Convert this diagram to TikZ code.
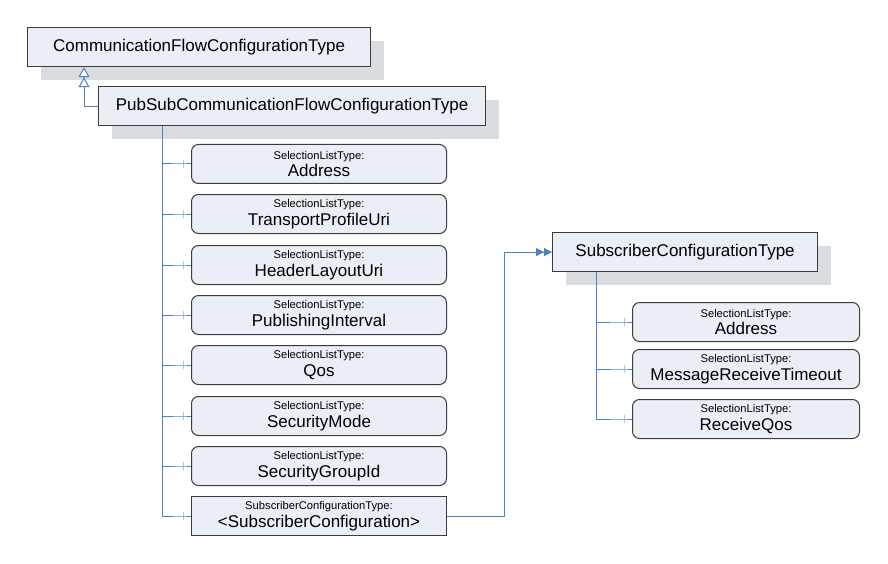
\documentclass[tikz,border=0pt]{standalone}
\usepackage{fontspec}
\setmainfont{Liberation Sans}
\usetikzlibrary{arrows.meta}
\usetikzlibrary{shapes}
\usetikzlibrary{backgrounds,shadows}

\definecolor{boxfill}{RGB}{233,238,247}
\definecolor{boxshadow}{RGB}{217,220,225}
\definecolor{linkblue}{RGB}{79,129,189}
\definecolor{tickblue}{RGB}{140,165,200}
\definecolor{boxborder}{RGB}{60,60,60}

\newcommand{\typelabel}[2]{{\fontsize{11.2}{12}\selectfont #1}\\#2}

\tikzset{
    typebox/.style={draw=boxborder, line width=1.2pt, fill=boxfill, anchor=north west,
        inner sep=0pt, minimum height=39pt, font=\fontsize{17}{18}\selectfont,
        drop shadow={shadow xshift=13pt, shadow yshift=-13pt, fill=boxshadow, opacity=1}},
    itembox/.style={draw=boxborder, line width=1pt, fill=boxfill, rounded corners=7pt,
        anchor=north west, inner sep=0pt, minimum height=39pt, align=center,
        font=\fontsize{17}{17.5}\selectfont},
    conn/.style={draw=linkblue, line width=1pt},
    tickmark/.style={draw=tickblue, line width=0.8pt, rectangle, inner sep=0pt,
        minimum width=0pt, minimum height=8pt}
}

\begin{document}
\begin{tikzpicture}[x=1pt, y=-1pt]

    \useasboundingbox (0, 0) rectangle (888, 564);

    % Declare the types
    \node[typebox, minimum width=343pt] at (27, 27) (CFCT) {CommunicationFlowConfigurationType};
    \node[typebox, minimum width=387pt] at (98, 86) (PSCFT) {PubSubCommunicationFlowConfigurationType};
    \node[typebox, minimum width=265pt] at (552, 232) (SCT) {SubscriberConfigurationType};

    % Declare the members of PubSubCommunicationFlowConfigurationType
    \node[itembox, minimum width=255pt] at (191, 144) (A1) {\typelabel{SelectionListType:}{Address}};
    \node[itembox, minimum width=255pt] at (191, 194) (A2) {\typelabel{SelectionListType:}{TransportProfileUri}};
    \node[itembox, minimum width=255pt] at (191, 245) (A3) {\typelabel{SelectionListType:}{HeaderLayoutUri}};
    \node[itembox, minimum width=255pt] at (191, 295) (A4) {\typelabel{SelectionListType:}{PublishingInterval}};
    \node[itembox, minimum width=255pt] at (191, 345) (A5) {\typelabel{SelectionListType:}{Qos}};
    \node[itembox, minimum width=255pt] at (191, 396) (A6) {\typelabel{SelectionListType:}{SecurityMode}};
    \node[itembox, minimum width=255pt] at (191, 446) (A7) {\typelabel{SelectionListType:}{SecurityGroupId}};
    \node[itembox, minimum width=255pt, rounded corners=0pt] at (191, 496) (A8) {\typelabel{SubscriberConfigurationType:}{<SubscriberConfiguration>}};

    % Declare the members of SubscriberConfigurationType
    \node[itembox, minimum width=227pt] at (632, 302) (B1) {\typelabel{SelectionListType:}{Address}};
    \node[itembox, minimum width=227pt] at (632, 349) (B2) {\typelabel{SelectionListType:}{MessageReceiveTimeout}};
    \node[itembox, minimum width=227pt] at (632, 399) (B3) {\typelabel{SelectionListType:}{ReceiveQos}};

    % Declare inheritance edge
    \draw[conn, -{Triangle[open, fill=white, length=10pt, width=11pt] Triangle[open, fill=white, length=10pt, width=11pt]}]
        (PSCFT.west) -| ([xshift=57pt]CFCT.south west);

    % Declare member edges
    \draw[conn] (PSCFT.south west) ++(64, 0) |- ([xshift=-8pt]A1.west) node[tickmark] {} -- (A1.west);
    \draw[conn] (PSCFT.south west) ++(64, 0) |- ([xshift=-8pt]A2.west) node[tickmark] {} -- (A2.west);
    \draw[conn] (PSCFT.south west) ++(64, 0) |- ([xshift=-8pt]A3.west) node[tickmark] {} -- (A3.west);
    \draw[conn] (PSCFT.south west) ++(64, 0) |- ([xshift=-8pt]A4.west) node[tickmark] {} -- (A4.west);
    \draw[conn] (PSCFT.south west) ++(64, 0) |- ([xshift=-8pt]A5.west) node[tickmark] {} -- (A5.west);
    \draw[conn] (PSCFT.south west) ++(64, 0) |- ([xshift=-8pt]A6.west) node[tickmark] {} -- (A6.west);
    \draw[conn] (PSCFT.south west) ++(64, 0) |- ([xshift=-8pt]A7.west) node[tickmark] {} -- (A7.west);
    \draw[conn] (PSCFT.south west) ++(64, 0) |- ([xshift=-8pt]A8.west) node[tickmark] {} -- (A8.west);

    \draw[conn] (SCT.south west) ++(44, 0) |- ([xshift=-8pt]B1.west) node[tickmark] {} -- (B1.west);
    \draw[conn] (SCT.south west) ++(44, 0) |- ([xshift=-8pt]B2.west) node[tickmark] {} -- (B2.west);
    \draw[conn] (SCT.south west) ++(44, 0) |- ([xshift=-8pt]B3.west) node[tickmark] {} -- (B3.west);

    % Declare type reference edge
    \draw[conn, -{Triangle[length=8pt, width=8pt] Triangle[length=8pt, width=8pt]}]
        (A8.east) -- ++(57, 0) |- (SCT.west);

\end{tikzpicture}
\end{document}
